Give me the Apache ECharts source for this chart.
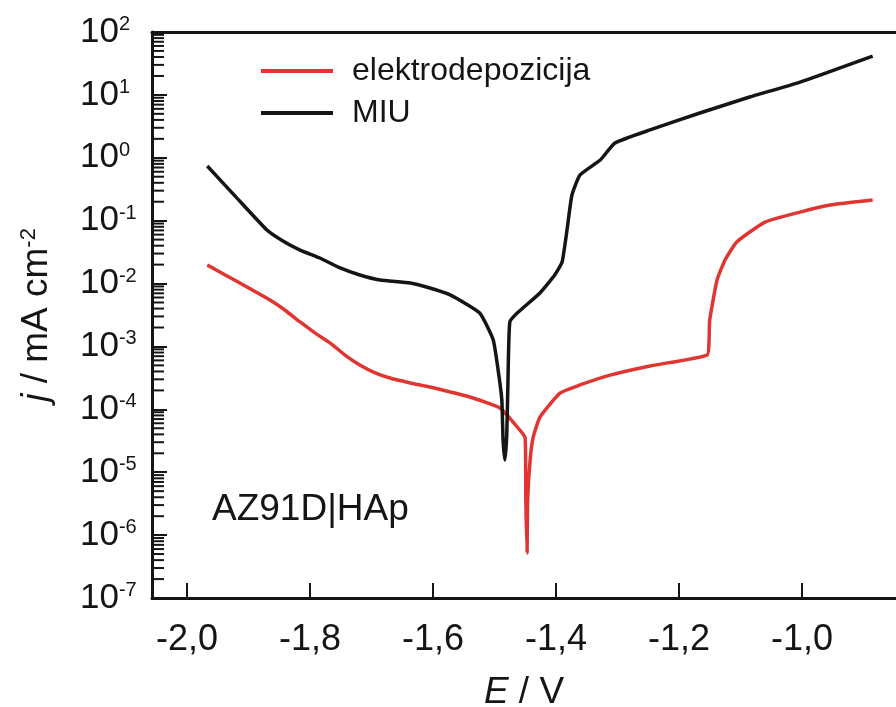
<!DOCTYPE html>
<html>
<head>
<meta charset="utf-8">
<script src="https://cdn.jsdelivr.net/npm/echarts@6/dist/echarts.min.js"></script>
<style>
html,body{margin:0;padding:0;background:#fff;}
#chart{width:896px;height:707px;}
</style>
</head>
<body>
<div id="chart"></div>
<script>
// ---- data ----
var seriesNames = ['elektrodepozicija', 'MIU'];

var elektroE = [-1.967, -1.914, -1.865, -1.841, -1.816, -1.792, -1.767, -1.743, -1.719, -1.694, -1.670, -1.637, -1.605, -1.540, -1.491, -1.459, -1.450, -1.449, -1.447, -1.446, -1.442, -1.437, -1.426, -1.393, -1.361, -1.312, -1.247, -1.154, -1.151, -1.150, -1.138, -1.125, -1.106, -1.060, -1.003, -0.954, -0.885];
var elektroJ = [0.0197, 0.0102, 0.00548, 0.0038, 0.00245, 0.00164, 0.00113, 7.3e-4, 5.07e-4, 3.8e-4, 3.15e-4, 2.63e-4, 2.26e-4, 1.57e-4, 1.05e-4, 4.7e-5, 3.5e-5, 3.6e-6, 5.2e-7, 3.6e-6, 1.56e-5, 3.6e-5, 7.5e-5, 1.82e-4, 2.44e-4, 3.5e-4, 4.9e-4, 7.3e-4, 1.27e-3, 2.6e-3, 0.0114, 0.0237, 0.0458, 0.095, 0.137, 0.177, 0.213];

var miuE = [-1.967, -1.919, -1.870, -1.844, -1.816, -1.784, -1.751, -1.719, -1.686, -1.637, -1.605, -1.572, -1.524, -1.502, -1.494, -1.488, -1.486, -1.483, -1.480, -1.478, -1.475, -1.463, -1.426, -1.402, -1.390, -1.382, -1.374, -1.361, -1.328, -1.304, -1.247, -1.166, -1.085, -1.003, -0.885];
var miuJ = [0.74, 0.23, 0.071, 0.0475, 0.034, 0.0255, 0.0177, 0.0137, 0.0114, 0.0102, 0.0085, 0.0066, 0.0034, 1.27e-3, 4.2e-4, 1.41e-4, 3.26e-5, 1.56e-5, 3.9e-5, 2.9e-4, 2.45e-3, 3.4e-3, 7.1e-3, 0.0137, 0.022, 0.071, 0.256, 0.53, 0.92, 1.72, 2.77, 5.15, 9.25, 16.0, 41.5];

var xTicks = [-2.0, -1.8, -1.6, -1.4, -1.2, -1.0];
var yTicks = [1e-7, 1e-6, 1e-5, 1e-4, 1e-3, 1e-2, 1e-1, 1, 10, 100];
var xMin = -2.0569, xMax = -0.847;
var annotation = 'AZ91D|HAp';

// ---- build ----
function zip(a, b) { return a.map(function (v, i) { return [v, b[i]]; }); }
var minorTicks = [];
for (var n = -7; n < 2; n++) {
  for (var k = 2; k <= 9; k++) minorTicks.push([xMin, k * Math.pow(10, n)]);
}

var chart = echarts.init(document.getElementById('chart'), null, {renderer: 'canvas'});
var font = '"Liberation Sans", Arial, Helvetica, sans-serif';
var ink = '#151515';

chart.setOption({
  animation: false,
  backgroundColor: '#fff',
  textStyle: {fontFamily: font, color: ink},
  grid: {left: 152, top: 32, right: 0, bottom: 109, containLabel: false, outerBoundsMode: 'none'},
  legend: {
    data: seriesNames,
    orient: 'vertical',
    left: 261, top: 55,
    padding: 0,
    itemGap: 10,
    icon: 'rect',
    itemWidth: 72, itemHeight: 4,
    textStyle: {fontSize: 32, color: ink, fontFamily: font, padding: [0, 0, 0, 14]}
  },
  xAxis: [{
    type: 'value', min: xMin, max: xMax,
    name: '{i|E} / V', nameLocation: 'middle', nameGap: 76,
    nameTextStyle: {fontSize: 37, color: ink, fontFamily: font,
      rich: {i: {fontStyle: 'italic', fontSize: 37, fontFamily: font, color: ink}}},
    axisLine: {show: true, onZero: false, lineStyle: {color: ink, width: 3}},
    axisTick: {show: true, inside: true, length: 15, lineStyle: {color: ink, width: 2}, customValues: xTicks},
    axisLabel: {show: true, fontSize: 36, color: ink, margin: 24, fontFamily: font, customValues: xTicks,
      formatter: function (v) { return v.toFixed(1).replace('.', ','); }},
    splitLine: {show: false}
  }, {
    type: 'value', min: xMin, max: xMax, position: 'top',
    axisLine: {show: true, onZero: false, lineStyle: {color: ink, width: 3}},
    axisTick: {show: false}, axisLabel: {show: false}, splitLine: {show: false}
  }],
  yAxis: {
    type: 'log', logBase: 10, min: 1e-7, max: 100, splitNumber: 9,
    name: '{i|j} / mA cm{s|-2}', nameLocation: 'middle', nameRotate: 90, nameGap: 97,
    nameTextStyle: {fontSize: 37, color: ink, fontFamily: font,
      rich: {
        i: {fontStyle: 'italic', fontSize: 37, fontFamily: font, color: ink},
        s: {fontSize: 22, fontFamily: font, color: ink, verticalAlign: 'top'}
      }},
    axisLine: {show: true, onZero: false, lineStyle: {color: ink, width: 3}},
    axisTick: {show: true, inside: true, length: 15, lineStyle: {color: ink, width: 2}, customValues: yTicks},
    axisLabel: {show: true, align: 'left', margin: 72, customValues: yTicks,
      formatter: function (v) {
        var e = Math.round(Math.log(v) / Math.LN10);
        return '{b|10}{s|' + e + '}';
      },
      rich: {
        b: {fontSize: 35, fontFamily: font, color: ink, lineHeight: 35},
        s: {fontSize: 20, fontFamily: font, color: ink, verticalAlign: 'top', lineHeight: 20}
      }},
    splitLine: {show: false}
  },
  graphic: [{
    type: 'text', left: 212, top: 491,
    style: {text: annotation, fontSize: 37, fontFamily: font, fill: ink}
  }],
  series: [{
    type: 'custom', name: 'minor', coordinateSystem: 'cartesian2d', silent: true, clip: false,
    data: minorTicks,
    renderItem: function (params, api) {
      var p = api.coord([api.value(0), api.value(1)]);
      return {type: 'line', shape: {x1: p[0], y1: p[1], x2: p[0] + 12, y2: p[1]},
        style: {stroke: ink, lineWidth: 2}};
    }
  }, {
    name: seriesNames[0], type: 'line', data: zip(elektroE, elektroJ),
    showSymbol: false, symbol: 'none', smooth: 0.15,
    lineStyle: {color: '#e03631', width: 3.5}, itemStyle: {color: '#e03631'}
  }, {
    name: seriesNames[1], type: 'line', data: zip(miuE, miuJ),
    showSymbol: false, symbol: 'none', smooth: 0.15,
    lineStyle: {color: ink, width: 3.5}, itemStyle: {color: ink}
  }]
});
</script>
</body>
</html>
